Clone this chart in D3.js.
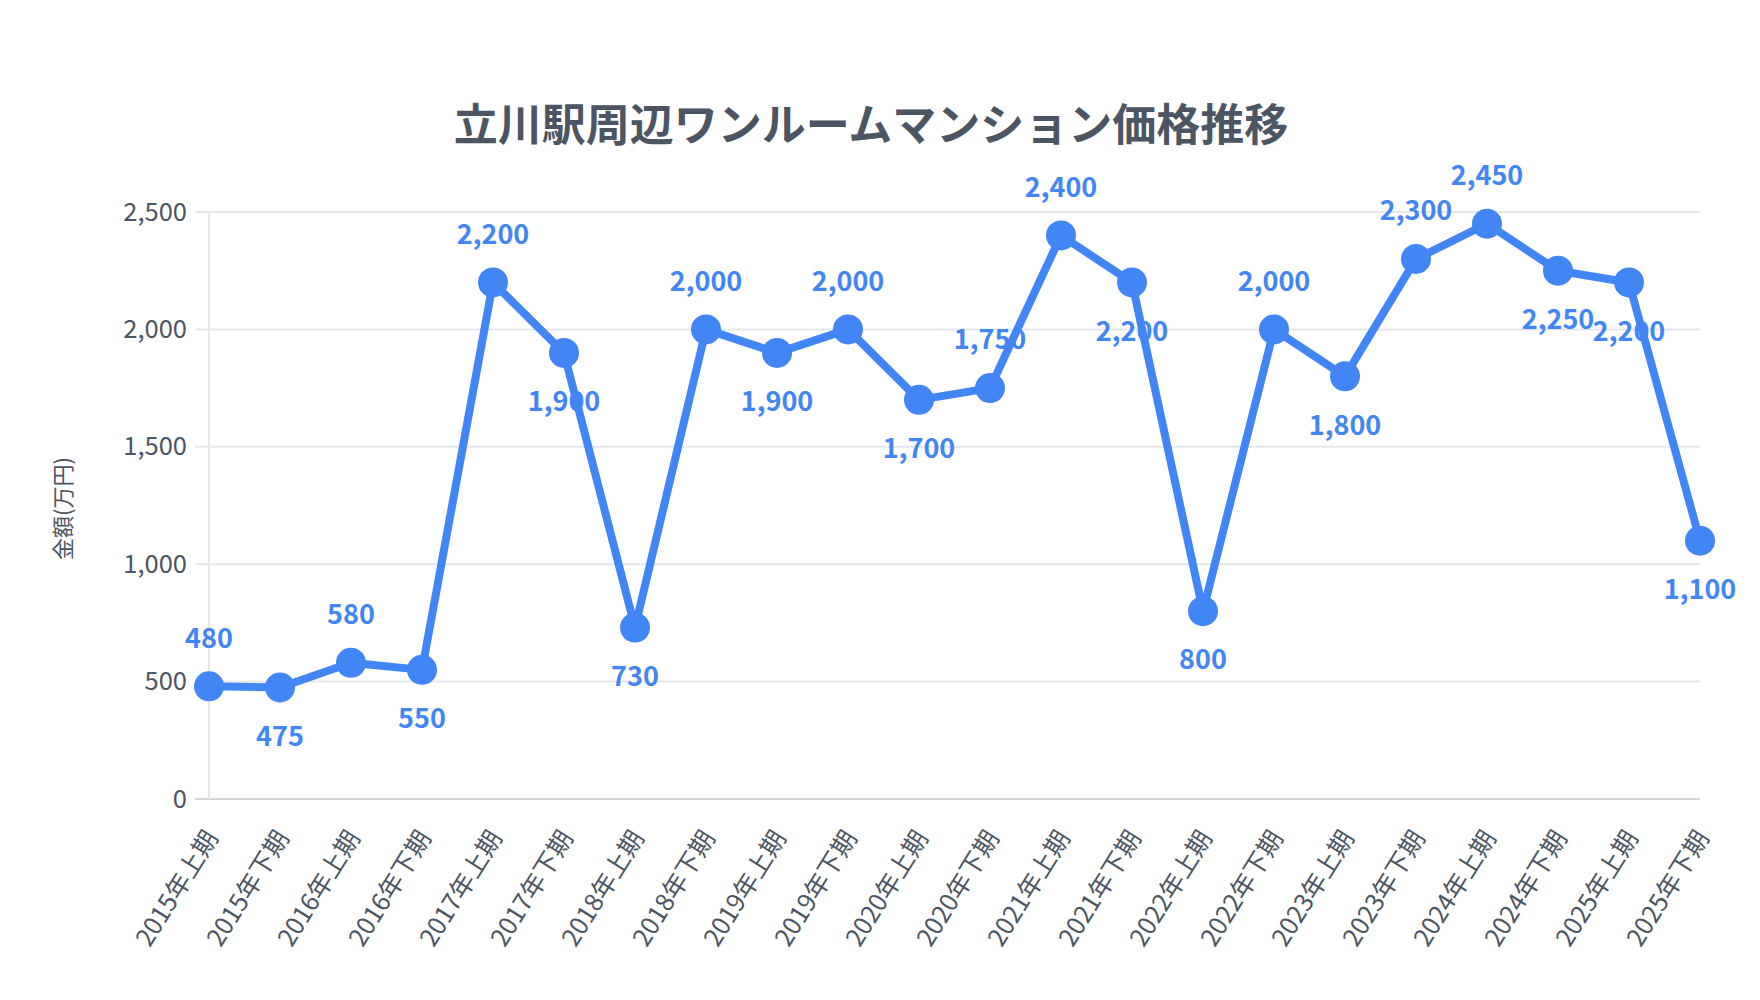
<!DOCTYPE html>
<html>
<head>
<meta charset="utf-8">
<script src="https://cdn.jsdelivr.net/npm/d3@7"></script>
<style>
  body { margin: 0; background: #fff; }
  text { font-family: "Noto Sans CJK JP", "Noto Sans", sans-serif; }
</style>
</head>
<body>
<div class="plot"></div>
<script>
const periods = ["2015年上期", "2015年下期", "2016年上期", "2016年下期", "2017年上期", "2017年下期",
    "2018年上期", "2018年下期", "2019年上期", "2019年下期", "2020年上期", "2020年下期",
    "2021年上期", "2021年下期", "2022年上期", "2022年下期", "2023年上期", "2023年下期",
    "2024年上期", "2024年下期", "2025年上期", "2025年下期"];
const prices = [480, 475, 580, 550, 2200, 1900, 730, 2000, 1900, 2000, 1700, 1750,
    2400, 2200, 800, 2000, 1800, 2300, 2450, 2250, 2200, 1100];
const yTicks = [0, 500, 1000, 1500, 2000, 2500];

const W = 1760, H = 1000;
const margin = {top: 212, right: 60, bottom: 201, left: 209};
const w = W - margin.left - margin.right;
const h = H - margin.top - margin.bottom;
const blue = "#4285f4";
const textColor = "#4b5563";

const svg = d3.select(".plot")
    .append("svg")
        .attr("width", W)
        .attr("height", H);

// title
svg.append("text")
    .attr("x", 871)
    .attr("y", 129)
    .attr("text-anchor", "middle")
    .attr("dominant-baseline", "middle")
    .style("font-size", "44px")
    .style("font-weight", "bold")
    .style("fill", textColor)
    .text("立川駅周辺ワンルームマンション価格推移");

const g = svg.append("g")
    .attr("transform", "translate(" + margin.left + "," + margin.top + ")");

const x = d3.scalePoint()
    .domain(periods)
    .range([0, w]);

const y = d3.scaleLinear()
    .domain([0, 2500])
    .range([h, 0]);

// gridlines
g.append("g")
    .selectAll("line")
    .data(yTicks)
    .enter()
    .append("line")
        .attr("x1", -14)
        .attr("x2", w)
        .attr("y1", d => y(d))
        .attr("y2", d => y(d))
        .style("stroke", d => d === 0 ? "#d1d5db" : "#e5e7eb")
        .style("stroke-width", 2);

// y axis line
g.append("line")
    .attr("x1", 0).attr("x2", 0)
    .attr("y1", 0).attr("y2", h)
    .style("stroke", "#e5e7eb")
    .style("stroke-width", 2);

// y axis
const yAxis = g.append("g")
    .call(d3.axisLeft(y).tickValues(yTicks).tickFormat(d3.format(",")).tickSize(0).tickPadding(22));
yAxis.select(".domain").remove();
yAxis.selectAll("text")
    .style("font-size", "25.5px")
    .style("fill", textColor);

// x axis
const xAxis = g.append("g")
    .attr("transform", "translate(0," + h + ")")
    .call(d3.axisBottom(x).tickSize(0));
xAxis.select(".domain").remove();
xAxis.selectAll("text")
    .attr("transform", "translate(2,34) rotate(-58)")
    .attr("dy", "0.35em")
    .attr("y", 0)
    .style("text-anchor", "end")
    .style("font-size", "25px")
    .style("fill", textColor);

// y axis title
svg.append("text")
    .attr("transform", "translate(65," + (margin.top + h / 2 + 3) + ") rotate(-90)")
    .attr("text-anchor", "middle")
    .attr("dominant-baseline", "middle")
    .style("font-size", "22px")
    .style("fill", textColor)
    .text("金額(万円)");

// value labels: above when rising, below when falling
g.selectAll(".label")
    .data(prices)
    .enter()
    .append("text")
        .attr("class", "label")
        .attr("x", (d, i) => x(periods[i]))
        .attr("y", (d, i) => y(d) + ((i === 0 || d >= prices[i - 1]) ? -46 : 51))
        .attr("text-anchor", "middle")
        .attr("dominant-baseline", "middle")
        .style("font-size", "27px")
        .style("font-weight", "bold")
        .style("fill", blue)
        .text(d => d3.format(",")(d));

// line
const line = d3.line()
    .x((d, i) => x(periods[i]))
    .y(d => y(d));

g.append("path")
    .datum(prices)
    .attr("d", line)
    .style("fill", "none")
    .style("stroke", blue)
    .style("stroke-width", 8)
    .style("stroke-linejoin", "round");

g.selectAll("circle")
    .data(prices)
    .enter()
    .append("circle")
        .attr("cx", (d, i) => x(periods[i]))
        .attr("cy", d => y(d))
        .attr("r", 15)
        .style("fill", blue);
</script>
</body>
</html>
